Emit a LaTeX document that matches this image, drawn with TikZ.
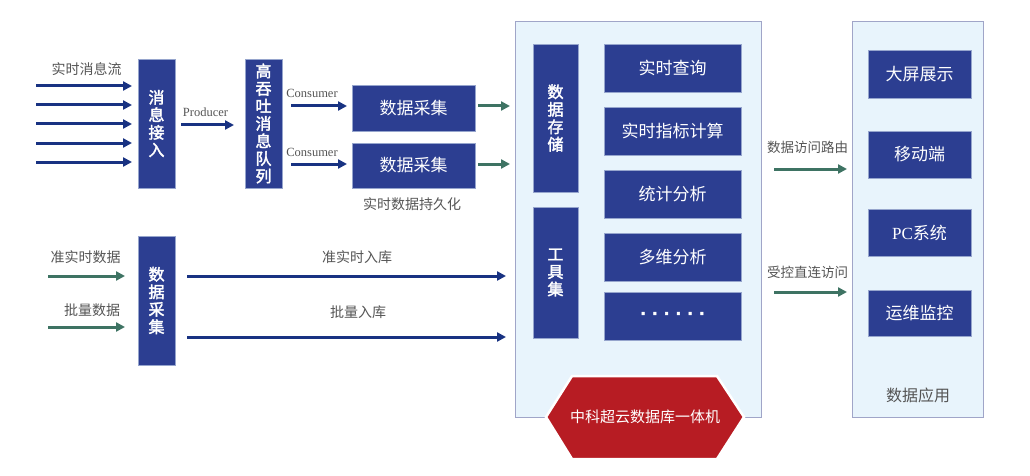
\documentclass[tikz,border=0pt]{standalone}
\usepackage{fontspec}
\setmainfont{Noto Sans CJK SC}
\newfontfamily\heavycjk{Noto Sans CJK SC}[FakeBold=2.2]
\newfontfamily\latinserif{Liberation Serif}
\newfontfamily\dotfont{Liberation Sans}[FakeBold=2]
\usetikzlibrary{arrows.meta}
\definecolor{boxblue}{RGB}{44,62,145}
\definecolor{boxedge}{RGB}{150,165,205}
\definecolor{panelfill}{RGB}{232,244,252}
\definecolor{paneledge}{RGB}{160,165,200}
\definecolor{labelgray}{RGB}{85,85,85}
\definecolor{arrowblue}{RGB}{24,50,130}
\definecolor{arrowgreen}{RGB}{62,115,99}
\definecolor{hexred}{RGB}{183,28,35}
\begin{document}
\begin{tikzpicture}[x=1pt,y=-1pt,
  dbox/.style={fill=boxblue, draw=boxedge, line width=0.6pt, text=white, inner sep=0pt,
    font=\fontsize{17}{20}\selectfont},
  vbox/.style={dbox, font=\heavycjk\fontsize{16}{17.5}\selectfont, align=center},
  panel/.style={fill=panelfill, draw=paneledge, line width=1pt, inner sep=0pt},
  lbl/.style={text=labelgray, font=\fontsize{14}{16}\selectfont, inner sep=0pt},
  ser/.style={text=labelgray, font=\latinserif\fontsize{12.5}{15}\selectfont, inner sep=0pt},
  barrow/.style={draw=arrowblue, line width=3pt, -{Triangle[length=9pt,width=9pt]}},
  garrow/.style={barrow, draw=arrowgreen}]
\fill[white] (0,0) rectangle (1030,476);
\useasboundingbox (0,0) rectangle (1030,476);

% panels
\node[panel, minimum width=246pt, minimum height=395pt] (store) at (638,219.5) {};
\node[panel, minimum width=131pt, minimum height=395pt] (app) at (917.5,219.5) {};

% left column boxes
\node[vbox, minimum width=37pt, minimum height=129pt] (acc) at (156.5,123.5) {消\\息\\接\\入};
\node[vbox, minimum width=37pt, minimum height=129pt] (mq) at (263.5,123.5) {高\\吞\\吐\\消\\息\\队\\列};
\node[dbox, minimum width=123pt, minimum height=46pt] (col1) at (413.5,108) {数据采集};
\node[dbox, minimum width=123pt, minimum height=45pt] (col2) at (413.5,165.5) {数据采集};
\node[vbox, minimum width=37pt, minimum height=129pt] (dc) at (156.5,300.5) {数\\据\\采\\集};

% store panel content
\node[vbox, minimum width=45pt, minimum height=148pt] (ds) at (555.5,118) {数\\据\\存\\储};
\node[vbox, minimum width=45pt, minimum height=131pt] (tool) at (555.5,272.5) {工\\具\\集};
\node[dbox, minimum width=137pt, minimum height=48pt] (q1) at (672.5,68) {实时查询};
\node[dbox, minimum width=137pt, minimum height=48pt] (q2) at (672.5,131) {实时指标计算};
\node[dbox, minimum width=137pt, minimum height=48pt] (q3) at (672.5,194) {统计分析};
\node[dbox, minimum width=137pt, minimum height=48pt] (q4) at (672.5,257) {多维分析};
\node[dbox, minimum width=137pt, minimum height=48pt, font=\dotfont\fontsize{26}{26}\selectfont] (q5) at (672.5,316)
  {\raisebox{5pt}{.\hspace{4.5pt}.\hspace{4.5pt}.\hspace{4.5pt}.\hspace{4.5pt}.\hspace{4.5pt}.}};

% app panel content
\node[dbox, minimum width=103pt, minimum height=48pt] (a1) at (919.5,74) {大屏展示};
\node[dbox, minimum width=103pt, minimum height=47pt] (a2) at (919.5,154.5) {移动端};
\node[dbox, minimum width=103pt, minimum height=47pt] (a3) at (919.5,232.5) {{\latinserif PC}系统};
\node[dbox, minimum width=103pt, minimum height=46pt] (a4) at (919.5,313) {运维监控};
\node[text=labelgray, font=\fontsize{16}{18}\selectfont, inner sep=0pt] (applbl) at (918,395) {数据应用};

% hexagon
\draw[fill=hexred, draw=white, line width=2.5pt]
  (546,417) -- (572,376) -- (717,376) -- (744,417) -- (717,459) -- (572,459) -- cycle;
\node[text=white, font=\fontsize{15}{17}\selectfont, inner sep=0pt] (hex) at (645,417) {中科超云数据库一体机};

% labels
\node[lbl] (l1) at (86.5,69) {实时消息流};
\node[ser] (lp) at (205.5,112) {Producer};
\node[ser] (lc1) at (312,93) {Consumer};
\node[ser] (lc2) at (312,152) {Consumer};
\node[lbl] (lpers) at (412,204) {实时数据持久化};
\node[lbl] (lq) at (85.5,257) {准实时数据};
\node[lbl] (lb) at (92,310) {批量数据};
\node[lbl] (lqr) at (357,257) {准实时入库};
\node[lbl] (lbr) at (358,312) {批量入库};
\node[lbl, font=\fontsize{13.5}{16}\selectfont] (lr1) at (807.5,147) {数据访问路由};
\node[lbl, font=\fontsize{13.5}{16}\selectfont] (lr2) at (807.5,272) {受控直连访问};

% arrow end points
\foreach \i/\y in {1/86,2/105,3/124,4/143,5/162}{
  \coordinate (s\i) at (36,\y);
  \coordinate (e\i) at (132,\y);
  \draw[barrow] (s\i) -- (e\i);
}
\coordinate (ps) at (181,125); \coordinate (pe) at (234,125);
\draw[barrow] (ps) -- (pe);
\coordinate (c1s) at (291,106); \coordinate (c1e) at (347,106);
\coordinate (c2s) at (291,164); \coordinate (c2e) at (347,164);
\draw[barrow] (c1s) -- (c1e);
\draw[barrow] (c2s) -- (c2e);
\coordinate (g1s) at (478,106); \coordinate (g1e) at (510,106);
\coordinate (g2s) at (478,164); \coordinate (g2e) at (510,164);
\draw[garrow] (g1s) -- (g1e);
\draw[garrow] (g2s) -- (g2e);
\coordinate (i1s) at (48,276); \coordinate (i1e) at (125,276);
\coordinate (i2s) at (48,327); \coordinate (i2e) at (125,327);
\draw[garrow] (i1s) -- (i1e);
\draw[garrow] (i2s) -- (i2e);
\coordinate (b1s) at (187,276); \coordinate (b1e) at (506,276);
\coordinate (b2s) at (187,337); \coordinate (b2e) at (506,337);
\draw[barrow] (b1s) -- (b1e);
\draw[barrow] (b2s) -- (b2e);
\coordinate (r1s) at (774,169); \coordinate (r1e) at (847,169);
\coordinate (r2s) at (774,292); \coordinate (r2e) at (847,292);
\draw[garrow] (r1s) -- (r1e);
\draw[garrow] (r2s) -- (r2e);
\end{tikzpicture}
\end{document}
